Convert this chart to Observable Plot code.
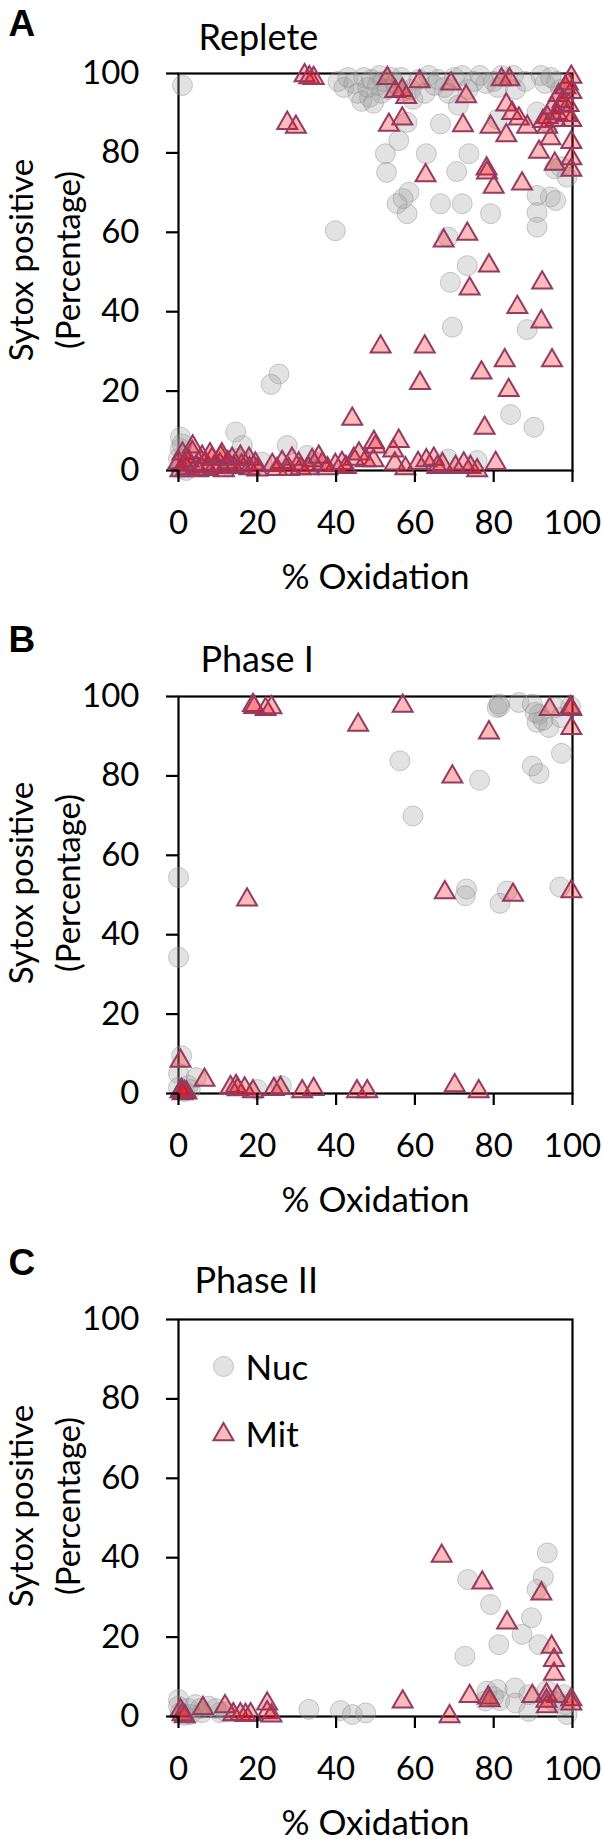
<!DOCTYPE html>
<html><head><meta charset="utf-8">
<script src="https://cdn.jsdelivr.net/npm/d3@7"></script>
<script src="https://cdn.jsdelivr.net/npm/@observablehq/plot@0.6"></script>
<style>
body{margin:0;background:#fff;width:603px;}
#chart svg{display:block;}
</style></head><body><div id="chart"></div>
<script>
const xTicks = [0, 20, 40, 60, 80, 100];
const yTicks = [0, 20, 40, 60, 80, 100];
const panelLetters = ["A", "B", "C"];
const panelTitles = ["Replete", "Phase I", "Phase II"];
const seriesNames = ["Nuc", "Mit"];
const xLabel = "% Oxidation";
const yLabelLines = ["Sytox positive", "(Percentage)"];

// Panel A (Replete): [% oxidation, % sytox positive]
const repleteNuc = [
  [1,97],[40.5,98],[42,96.5],[43,99],[44.5,97.5],[45.5,95],[46.5,93],[47,99],[48,96.5],[48.5,94],
  [49,98.5],[49.5,92.5],[50.5,97],[51,99.5],[51.5,95],[52,98],[53,96],[54,99],[55,97.5],[56.5,99],
  [57,95.5],[59,96],[59.5,93.5],[61,98.5],[62.5,95],[63.5,99.5],[65,97],[66,98.5],[67.5,96.5],[68.5,95],
  [70,99],[71,92],[72,99.5],[73.5,96],[75,98],[76.5,99.5],[78,97.5],[80,98],[81,96.5],[82,99.5],
  [85,99.5],[85.5,96],[88,98],[92,99.5],[93,97.5],[94.5,99],[96,98],[97,96],[91,90.3],
  [58,87.7],[66.5,87.3],[55.9,83.1],[52.5,79.8],[62.9,79.8],[73.7,79.8],[52.8,75.1],[70.6,75.3],
  [81,88.5],[94,87.5],[95.5,76],[98.6,73.9],[97,76.5],
  [58.5,70.1],[55.5,67.2],[58,64.7],[57,68.5],[66.5,67.2],[72,67.2],[79.2,64.7],
  [91,69.3],[94.4,68.9],[95.7,68],[91,65],[91,61.3],[39.8,60.4],[68.4,58.8],[73.3,51.6],[69,47.4],
  [69.5,36.1],[88.5,35.5],[25.5,24.3],[23.5,21.7],[84.3,14.1],[90.2,10.9],
  [0.5,8.4],[0.9,6.7],[0.5,5.5],[0,3],[1,1.5],[0.5,0.5],[2,0],[14.5,9.7],[16.2,6.3],[15,3],
  [13,1],[17,2],[21.2,2.1],[27.6,6.3],[32.7,3.8],[35,2],[68.4,2.9],[75.8,2.5]
];
const repleteMit = [
  [32,99.5],[33.2,99],[34.3,98.8],[27.6,87.5],[29.8,86.5],
  [53,98.8],[55,95.5],[56.8,95.8],[57.8,94],[61.2,98],[69.2,97.4],[73,94.2],[82,98.5],[84,98.5],
  [53.4,87],[56.8,88.6],[72.2,86.9],[79.2,86.5],[83.2,92.1],[84.7,90],[86.4,88.6],[88.5,86.5],[83.2,84.4],
  [62.7,74.3],[78.2,76],[78.3,75],[80,71.4],[87.2,72.2],[91.5,80.2],[95.5,77.2],
  [99.7,99.1],[98.2,96.5],[99.7,95.3],[96.5,94.5],[94.8,91.4],[97.4,91.8],[93.6,89],[95.7,88.2],
  [99.7,88.2],[93.6,86.5],[99.7,82.7],[94.4,83.6],[99.7,78.6],[99.7,75.7],[98.8,97.5],[97.5,93],
  [96,90],[99,92],[98.5,89.5],[92.5,88],
  [67.3,57.9],[73.3,59.6],[78.8,51.6],[73.9,45.8],[92.3,47.3],[86,41.1],[92.1,37.5],
  [51.3,31.2],[62.5,31.2],[82.8,27.7],[94.8,27.7],[76.9,24.6],[61.3,22],[83.8,20.2],[44.1,13],[77.7,10.7],[80.5,1.8],
  [49.6,7.1],[50,6],[55.9,7.4],[54.5,5],[49.5,2.5],[54.9,1.7],[57.6,0.5],[60.8,1.8],[62.9,2.5],[64.8,2.9],
  [65.7,0.8],[67,1.5],[70.3,0.8],[72.4,1.7],[74.1,0.8],[75.8,0],[39.8,1.3],[41.5,1.8],[44.5,2.9],[45.8,4.2],
  [47.5,2.5],[42.5,0.8],[23.8,1.3],[26.3,2.1],[28.8,2.9],[30.5,1.7],[33.9,2.5],[35.6,3.4],[36.5,1.7],[25,0.3],
  [31,0.5],[37.8,0.5],[28,0.3],[33,0.5],
  [0.5,0],[1,4.2],[1.5,1.5],[2,0.5],[3.6,6],[3.5,4.6],[4.5,1],[5,0],[6,3.4],[6.5,1.5],[7.5,0.3],[8.5,2.9],
  [9,0.8],[10.7,3.4],[10.5,1.5],[11.5,0],[12.5,2],[13.6,2.9],[14,0.8],[15.7,3.4],[16,1.2],[17.9,2.9],
  [18,0.5],[19.5,1.7],[20,0.2],[2.5,2.5],[0,2],[11,4],[8,4]
];

// Panel B (Phase I)
const phase1Nuc = [
  [0,54.4],[0,34.3],[0.8,9.5],[4.5,4],[0,5],[0,1.5],[1.5,0.5],[2.5,2],[3,1],[20,1],[26.1,2],
  [56.2,83.8],[76.4,78.9],[59.5,69.9],[89.8,82.5],[91.5,80.6],[97.2,85.7],
  [81.3,98.1],[80.9,97.2],[81.5,97.5],[86.4,98.5],[89.8,98.1],[91.5,95.5],[91,93.5],[94,92.2],
  [95.7,97.2],[97,94.7],[99.5,97.5],[92.5,94],[90.5,96],
  [73.1,51.5],[72.8,49.8],[83.4,51],[81.6,47.9],[96.8,52]
];
const phase1Mit = [
  [18.9,97.8],[19.2,97.3],[22.1,96.8],[23.6,97.2],[56.9,97.6],[45.6,92.8],[78.8,90.9],[94.2,96.8],
  [99.7,96.8],[99.5,97.2],[99.7,92],[69.5,79.8],[17.4,48.8],[67.6,50.6],[84.9,50],[99.7,50.9],
  [0.5,8.2],[6.6,3.4],[0.5,0.5],[1,0],[1.5,0.3],[2,0.2],[0.8,0.8],
  [13.2,1.5],[14.6,1.8],[15,1],[16.8,1.2],[18.9,0.5],[24.2,1.1],[25.9,1.3],[31.4,0.5],[34.3,1.1],
  [45.3,0.5],[47.9,0.5],[70.1,2],[76.2,0.5]
];

// Panel C (Phase II)
const phase2Nuc = [
  [0,4.3],[0,2.6],[0.5,1],[1.5,0.3],[2.5,2],[4.3,3],[5.5,2],[6,1],[7.7,2.6],[9.5,2],[10.5,1],[12,1.2],[3,0.5],
  [33.1,1.8],[41.1,1.5],[44.1,0.5],[47.5,0.9],
  [93.6,41.2],[92.6,35.1],[91,32],[73.4,34.5],[79.2,28.2],[89.6,24.9],[87.2,20.7],[91.5,18.1],[81.3,18.1],[72.7,15.2],
  [78.3,6.4],[80.9,6.8],[77.9,3.9],[85.4,7.2],[85.5,3.4],[88.9,5.5],[88.9,1.3],[97.8,5.5],[98.2,3],[98.6,0.5],
  [80,5],[81.5,4],[93.5,6.5],[95,4]
];
const phase2Mit = [
  [66.8,40.4],[77.1,33.7],[92.1,30.9],[83.4,23.6],[94.7,17.5],[95.3,14.2],[95.3,10.7],[56.9,3.7],
  [73.9,5.1],[78.6,4.7],[79,4],[89.8,5.1],[93.4,5.5],[93.4,3.9],[96.1,5.1],[93.5,2.5],[99.7,4.3],[99.7,3.2],[68.8,0],
  [0.5,1.5],[1.6,0],[6.2,2.1],[11.8,2.5],[13.9,0.5],[15.7,0.5],[18.3,0.5],[22.5,3.2],[22.5,1],[23.6,0.2],[1,0.5],[17,0.3]
];

const FONT = "Lato, 'Open Sans', sans-serif";
const nucStyle = {r: 10, fill: "#a0a0a0", fillOpacity: 0.3, stroke: "#8c8c8c", strokeOpacity: 0.45, strokeWidth: 1};
const mitStyle = {symbol: "triangle", r: 7.4, fill: "#ff0000", fillOpacity: 0.27, stroke: "#953a62", strokeWidth: 2};
const letterDy = [-38, -45, -45];
const titleDx = [20, 22, 16];
const titleDy = [-24, -25, -27];

function panel(i, nuc, mit, height, legend) {
  const marks = [
    Plot.frame({stroke: "black", strokeWidth: 2.2}),
    Plot.dot(nuc, {x: d => d[0], y: d => d[1], ...nucStyle}),
    Plot.dot(mit, {x: d => d[0], y: d => d[1], ...mitStyle}),
    Plot.axisX({ticks: xTicks, tickSize: 12, tickPadding: 28, fontSize: 33, strokeWidth: 2.2, label: null, tickFormat: d => String(d)}),
    Plot.axisY({ticks: yTicks, tickSize: 12, tickPadding: 27, fontSize: 33, strokeWidth: 2.2, label: null, tickFormat: d => String(d)}),
    Plot.text([panelLetters[i]], {frameAnchor: "top-left", dx: -170, dy: letterDy[i], lineAnchor: "bottom", textAnchor: "start", fontWeight: "bold", fontSize: 37, fontFamily: "'Liberation Sans', Arial, sans-serif"}),
    Plot.text([panelTitles[i]], {frameAnchor: "top-left", dx: titleDx[i], dy: titleDy[i], lineAnchor: "bottom", textAnchor: "start", fontSize: 36}),
    Plot.text([yLabelLines[0]], {frameAnchor: "left", rotate: -90, dx: -156, dy: -12, lineAnchor: "middle", textAnchor: "middle", fontSize: 33}),
    Plot.text([yLabelLines[1]], {frameAnchor: "left", rotate: -90, dx: -109, dy: -12, lineAnchor: "middle", textAnchor: "middle", fontSize: 33}),
    Plot.text([xLabel], {frameAnchor: "bottom", dy: 118, lineAnchor: "bottom", textAnchor: "middle", fontSize: 35})
  ];
  if (legend) {
    marks.push(
      Plot.dot([0], {frameAnchor: "top-left", dx: 45, dy: 47, ...nucStyle}),
      Plot.text([seriesNames[0]], {frameAnchor: "top-left", dx: 67, dy: 60, lineAnchor: "bottom", textAnchor: "start", fontSize: 35}),
      Plot.dot([0], {frameAnchor: "top-left", dx: 45, dy: 115, ...mitStyle}),
      Plot.text([seriesNames[1]], {frameAnchor: "top-left", dx: 67, dy: 127, lineAnchor: "bottom", textAnchor: "start", fontSize: 35})
    );
  }
  return Plot.plot({
    width: 603, height,
    marginTop: 73, marginLeft: 178, marginRight: 31, marginBottom: height - 73 - 397,
    x: {domain: [0, 100]}, y: {domain: [0, 100]},
    style: {fontFamily: FONT, color: "black", background: "white", overflow: "visible"},
    marks
  });
}

const root = document.getElementById("chart");
root.append(panel(0, repleteNuc, repleteMit, 623, false));
root.append(panel(1, phase1Nuc, phase1Mit, 623, false));
root.append(panel(2, phase2Nuc, phase2Mit, 593, true));
</script></body></html>
